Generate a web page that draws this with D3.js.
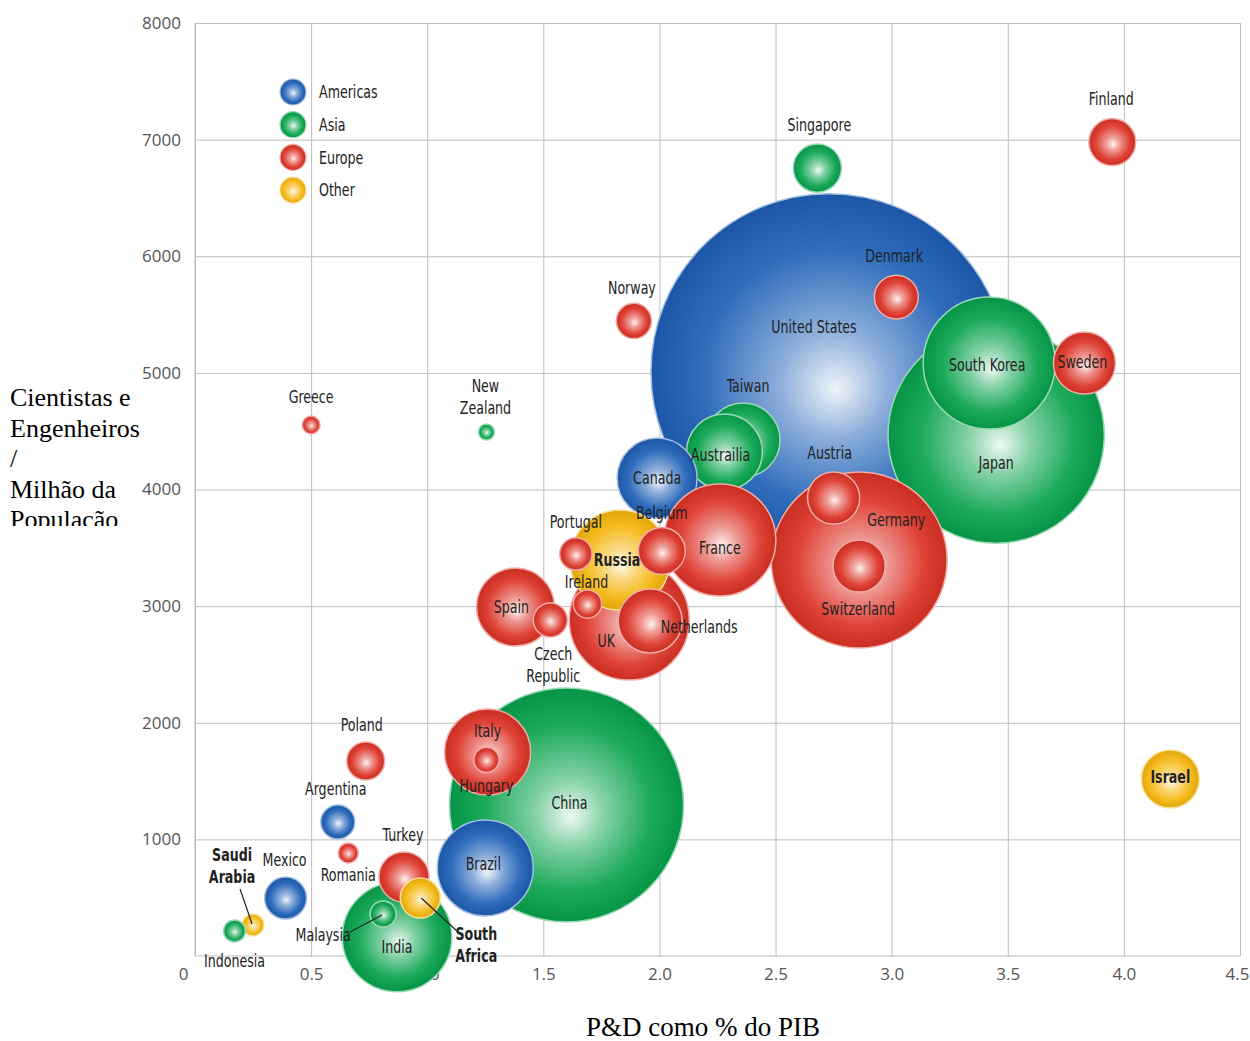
<!DOCTYPE html>
<html>
<head>
<meta charset="utf-8">
<script src="https://cdn.jsdelivr.net/npm/d3@7"></script>
<style>
  body { margin: 0; background: #fff; }
  svg { display: block; }
  .tick text { font-family: "Open Sans", "Noto Sans", sans-serif; fill: #555; }
  .blabel { font-family: "Liberation Sans Narrow", "DejaVu Sans Condensed", sans-serif; fill: #222; }
</style>
</head>
<body>
<svg id="chart" width="1250" height="1041"></svg>
<script>
// chart data
const countries = ["United States", "Japan", "South Korea", "Sweden", "Denmark", "Singapore", "Finland", "Norway",
  "Taiwan", "Austrailia", "Canada", "Germany", "Austria", "Switzerland", "UK", "Russia", "France", "Belgium",
  "Netherlands", "Portugal", "Ireland", "Spain", "Czech Republic", "China", "Italy", "Hungary", "Brazil", "India",
  "Turkey", "South Africa", "Malaysia", "Poland", "Argentina", "Romania", "Mexico", "Saudi Arabia", "Indonesia",
  "Greece", "New Zealand", "Israel"];
const regions = ["Americas", "Asia", "Asia", "Europe", "Europe", "Asia", "Europe", "Europe",
  "Asia", "Asia", "Americas", "Europe", "Europe", "Europe", "Europe", "Other", "Europe", "Europe",
  "Europe", "Europe", "Europe", "Europe", "Europe", "Asia", "Europe", "Europe", "Americas", "Asia",
  "Europe", "Other", "Asia", "Europe", "Americas", "Europe", "Americas", "Other", "Asia",
  "Europe", "Asia", "Other"];
// P&D como % do PIB
const rdShare = [2.73, 3.45, 3.42, 3.83, 3.02, 2.68, 3.95, 1.89,
  2.36, 2.28, 1.99, 2.86, 2.75, 2.86, 1.87, 1.83, 2.26, 2.01,
  1.96, 1.64, 1.69, 1.38, 1.53, 1.60, 1.26, 1.255, 1.25, 0.87,
  0.90, 0.97, 0.81, 0.735, 0.615, 0.66, 0.39, 0.25, 0.17,
  0.50, 1.255, 4.20];
// Cientistas e engenheiros por milhão
const researchers = [5010, 4467, 5084, 5084, 5650, 6756, 6979, 5445,
  4424, 4321, 4098, 3395, 3927, 3344, 2881, 3395, 3567, 3473,
  2872, 3447, 3018, 2992, 2881, 1295, 1749, 1681, 755, 163,
  677, 497, 360, 1672, 1149, 883, 497, 266, 214,
  4553, 4493, 1518];
// bubble size (R&D spending)
const spending = [317, 117, 43.6, 9.6, 4.8, 5.8, 5.5, 3.1,
  13.7, 14.4, 16, 77.4, 6.8, 6.8, 36, 25, 31.4, 5.5,
  10.2, 2.6, 2.0, 15.2, 2.9, 137, 18.5, 1.6, 23, 30,
  6.3, 4.0, 1.7, 3.6, 2.9, 1.0, 4.4, 1.2, 1.2,
  0.8, 0.64, 8.4];
const regionNames = ["Americas", "Asia", "Europe", "Other"];
const xTicks = [0, 0.5, 1, 1.5, 2, 2.5, 3, 3.5, 4, 4.5];
const yTicks = [1000, 2000, 3000, 4000, 5000, 6000, 7000, 8000];
const yTitle = ["Cientistas e", "Engenheiros", "/", "Milhão da", "População"];
const xTitle = "P&D como % do PIB";

// label placement (px offsets from bubble centre), line breaks, leader lines
const labelPos = {
  "United States": [-15, -45], "Japan": [0, 28], "South Korea": [-2, 2], "Sweden": [-2, -1],
  "Denmark": [-2, -41], "Singapore": [2, -43], "Finland": [-1, -43], "Norway": [-2, -33],
  "Taiwan": [5, -54], "Austrailia": [-4, 3], "Canada": [0, 0], "Germany": [37, -40],
  "Austria": [-4, -45], "Switzerland": [-1, 43], "UK": [-23, 21], "Russia": [-3, 0],
  "France": [0, 8], "Belgium": [0, -38], "Netherlands": [49, 6], "Portugal": [0, -32],
  "Ireland": [-1, -22], "Spain": [-4, 0], "Czech Republic": [3, 34], "China": [3, -2],
  "Italy": [0, -21], "Hungary": [0, 26], "Brazil": [-2, -4], "India": [0, 10],
  "Turkey": [-1, -42], "South Africa": [56, 36], "Malaysia": [-60, 21], "Poland": [-4, -36],
  "Argentina": [-2, -33], "Romania": [0, 22], "Mexico": [-1, -38], "Saudi Arabia": [-21, -70],
  "Indonesia": [0, 30], "Greece": [0, -28], "New Zealand": [-1, -46], "Israel": [0, -2]
};
const twoLines = {"Czech Republic": ["Czech", "Republic"], "South Africa": ["South", "Africa"],
  "Saudi Arabia": ["Saudi", "Arabia"], "New Zealand": ["New", "Zealand"]};
const boldLabels = ["Russia", "South Africa", "Saudi Arabia", "Israel"];
const leaders = {"Saudi Arabia": [-13, -36, -1, -1], "Malaysia": [-33, 18, -1, 1], "South Africa": [1, 0, 42, 38]};

const colors = {Americas: "#1d5fb6", Asia: "#07a24c", Europe: "#dc3226", Other: "#f4b50c"};
const squeeze = 0.78; // the original label face is a narrow one

const data = countries.map((c, i) => ({name: c, region: regions[i], x: rdShare[i], y: researchers[i], s: spending[i]}));

const svg = d3.select("#chart");
const x = d3.scaleLinear().domain([0, 4.5]).range([195, 1240]);
const y = d3.scaleLinear().domain([0, 8000]).range([956, 23]);
const r = d3.scaleSqrt().domain([0, 400]).range([0, 200]);

// gradients
const defs = svg.append("defs");
regionNames.forEach(k => {
  const g = defs.append("radialGradient").attr("id", "g-" + k)
    .attr("cx", "50%").attr("cy", "50%").attr("r", "50%").attr("fx", "52%").attr("fy", "55%");
  const c = colors[k];
  const mix = t => d3.interpolateRgb(c, "#ffffff")(t);
  g.append("stop").attr("offset", "0%").attr("stop-color", mix(0.93));
  g.append("stop").attr("offset", "30%").attr("stop-color", mix(0.5));
  g.append("stop").attr("offset", "72%").attr("stop-color", mix(0.08));
  g.append("stop").attr("offset", "100%").attr("stop-color", d3.color(c).darker(0.25));
});
defs.append("clipPath").attr("id", "ytclip").append("rect").attr("x", 0).attr("y", 0).attr("width", 190).attr("height", 526);

// grid + axes
const gx = svg.append("g").attr("transform", "translate(0,956)")
  .call(d3.axisBottom(x).tickValues(xTicks).tickSize(-933).tickPadding(12)
    .tickFormat(d => d === 0 ? "0" : d3.format(".1f")(d)));
gx.select(".domain").remove();
gx.selectAll("line").attr("stroke", "#bdbdbd");
gx.selectAll("text").attr("font-size", 17);
gx.selectAll("text").filter(d => d === 0).attr("dx", -12);
gx.selectAll("text").filter(d => d === 4.5).attr("dx", -3);

const gy = svg.append("g").attr("transform", "translate(195,0)")
  .call(d3.axisLeft(y).tickValues(yTicks).tickSize(-1045).tickPadding(14).tickFormat(d3.format("d")));
gy.select(".domain").remove();
gy.selectAll("line").attr("stroke", "#bdbdbd");
gy.selectAll("text").attr("font-size", 17);

svg.append("line").attr("x1", x(0)).attr("x2", x(0)).attr("y1", y(8000)).attr("y2", y(0)).attr("stroke", "#bdbdbd");
svg.append("line").attr("x1", x(0)).attr("x2", x(4.5)).attr("y1", y(0)).attr("y2", y(0)).attr("stroke", "#bdbdbd");

// legend
const leg = svg.append("g").attr("transform", "translate(293,92)");
regionNames.forEach((k, i) => {
  const row = leg.append("g").attr("transform", `translate(0,${i * 32.7})`);
  row.append("circle").attr("r", 13).attr("fill", `url(#g-${k})`)
    .attr("stroke", d3.interpolateRgb(colors[k], "#fff")(0.6)).attr("stroke-width", 1.2);
  row.append("text").attr("class", "blabel").attr("transform", `translate(26,0) scale(${squeeze},1)`)
    .attr("dy", "0.35em").attr("font-size", 18).text(k);
});

// bubbles (array order = drawing order)
svg.append("g").selectAll("circle").data(data).join("circle")
  .attr("cx", d => x(d.x)).attr("cy", d => y(d.y)).attr("r", d => r(d.s))
  .attr("fill", d => `url(#g-${d.region})`)
  .attr("stroke", d => d3.interpolateRgb(colors[d.region], "#fff")(0.6))
  .attr("stroke-width", 1.5);

// leader lines
svg.append("g").selectAll("line").data(data.filter(d => leaders[d.name])).join("line")
  .attr("x1", d => x(d.x) + leaders[d.name][0]).attr("y1", d => y(d.y) + leaders[d.name][1])
  .attr("x2", d => x(d.x) + leaders[d.name][2]).attr("y2", d => y(d.y) + leaders[d.name][3])
  .attr("stroke", "#222").attr("stroke-width", 1.2);

// labels
const lab = svg.append("g").selectAll("text").data(data).join("text")
  .attr("class", "blabel")
  .attr("text-anchor", "middle")
  .attr("font-size", 18)
  .attr("font-weight", d => boldLabels.includes(d.name) ? "bold" : "normal")
  .attr("fill", d => boldLabels.includes(d.name) ? "#000" : "#222")
  .attr("transform", d => `translate(${x(d.x) + labelPos[d.name][0]},${y(d.y) + labelPos[d.name][1]}) scale(${squeeze},1)`);
lab.each(function(d) {
  const t = d3.select(this);
  const lines = twoLines[d.name] || [d.name];
  lines.forEach((l, i) => {
    t.append("tspan").attr("x", 0)
      .attr("dy", i === 0 ? "0.35em" : "1.2em").text(l);
  });
});

// axis titles
const yt = svg.append("g").attr("clip-path", "url(#ytclip)");
yTitle.forEach((s, i) => {
  yt.append("text").attr("x", 10).attr("y", 406 + i * 30.5)
    .attr("font-family", "'Liberation Serif', 'Times New Roman', serif").attr("font-size", 26)
    .attr("fill", "#000").text(s);
});
svg.append("text").attr("x", 703).attr("y", 1036).attr("text-anchor", "middle")
  .attr("font-family", "'Liberation Serif', 'Times New Roman', serif").attr("font-size", 27)
  .attr("fill", "#000").text(xTitle);
</script>
</body>
</html>
